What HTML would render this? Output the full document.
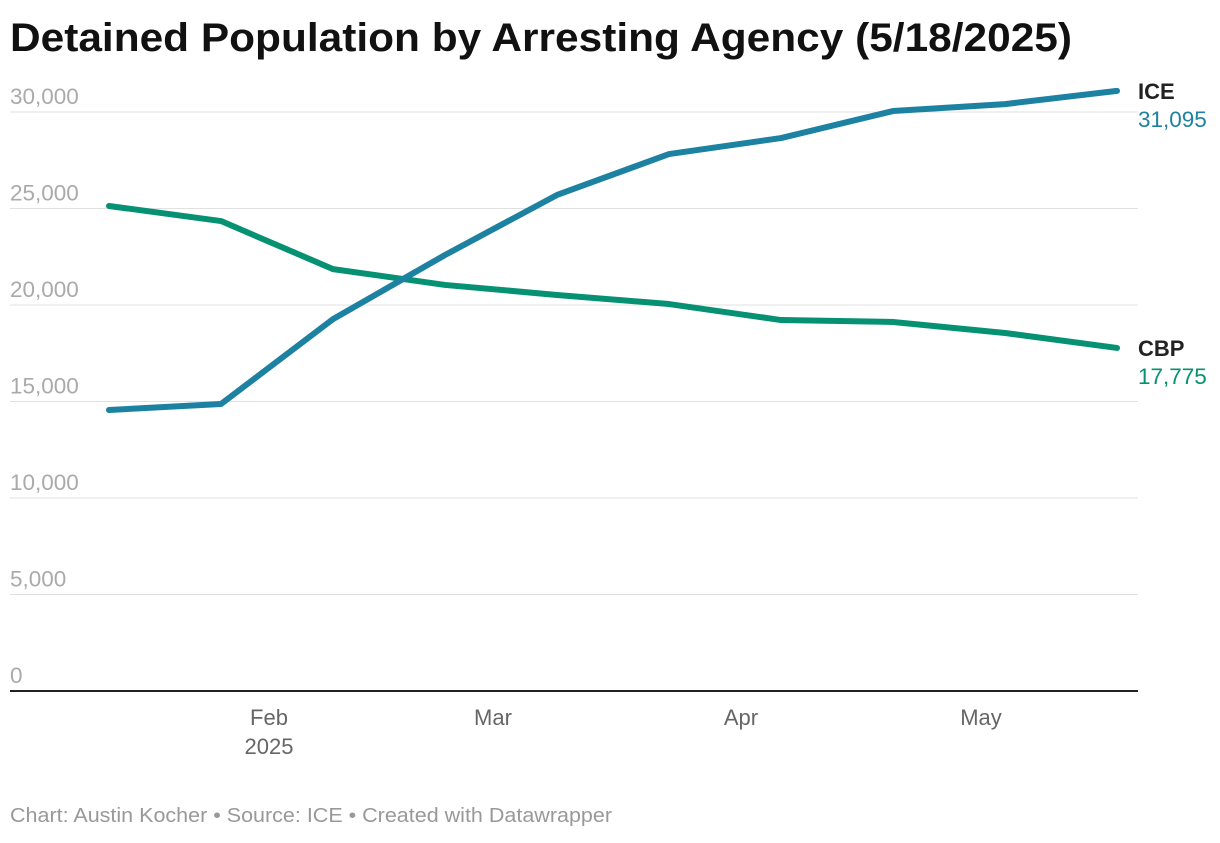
<!DOCTYPE html>
<html><head><meta charset="utf-8"><style>
body{margin:0;background:#fff;font-family:"Liberation Sans",sans-serif;}
svg text{font-family:"Liberation Sans",sans-serif;}
</style></head><body>
<svg id="c" width="1220" height="838">
<text x="10" y="51" font-size="40" font-weight="bold" fill="#111" textLength="1062" lengthAdjust="spacingAndGlyphs">Detained Population by Arresting Agency (5/18/2025)</text>
<g id="grid"></g><g id="lines"></g><g id="labels"></g>
<text x="10" y="822" font-size="20" fill="#999" textLength="602" lengthAdjust="spacingAndGlyphs">Chart: Austin Kocher • Source: ICE • Created with Datawrapper</text>
</svg>
<script>
const dates=["2025-01-12","2025-01-26","2025-02-09","2025-02-23","2025-03-09","2025-03-23","2025-04-06","2025-04-20","2025-05-04","2025-05-18"];
const ice=[14560,14870,19270,22590,25700,27820,28650,30050,30410,31095];
const cbp=[25130,24350,21860,21040,20520,20050,19220,19120,18550,17775];
const yTicks=[0,5000,10000,15000,20000,25000,30000];
const xTicks=[["2025-02-01","Feb"],["2025-03-01","Mar"],["2025-04-01","Apr"],["2025-05-01","May"]];
const NS="http://www.w3.org/2000/svg";
const t0=Date.parse(dates[0]);
function x(d){return 109+(Date.parse(d)-t0)/86400000*8.0;}
function y(v){return 691-v/30000*579;}
function mk(tag,attrs,parent){const e=document.createElementNS(NS,tag);for(const k in attrs)e.setAttribute(k,attrs[k]);document.getElementById(parent).appendChild(e);return e;}
yTicks.forEach(v=>{
 if(v>0){const l=mk('line',{x1:10,x2:1138,y1:y(v),y2:y(v),stroke:'#e0e0e0','stroke-width':1},'grid');
 
 }
 const t=mk('text',{x:10,y:y(v)-8,'font-size':22.5,fill:'#aaa'},'grid');t.textContent=v.toLocaleString('en-US');
 
 
});
const ax=mk('line',{x1:10,x2:1138,y1:691,y2:691,stroke:'#222','stroke-width':2},'grid');


xTicks.forEach(([d,lab])=>{
 const t=mk('text',{x:x(d),y:725,'font-size':22,fill:'#666','text-anchor':'middle'},'grid');t.textContent=lab;
 
 
 if(lab==="Feb"){const t2=mk('text',{x:x(d),y:754,'font-size':22,fill:'#666','text-anchor':'middle'},'grid');t2.textContent="2025";
 
 }
});
function line(vals,color,name){
 const p=mk('polyline',{points:vals.map((v,i)=>x(dates[i])+','+y(v)).join(' '),fill:'none',stroke:color,'stroke-width':6,'stroke-linejoin':'round','stroke-linecap':'round'},'lines');
 
 
}
line(cbp,'#079173','cbp-line');
line(ice,'#1d81a2','ice-line');
function label(vals,name,color,key){
 const yy=y(vals[vals.length-1]);
 const a=mk('text',{x:1138,y:yy+8,'font-size':22,'font-weight':'bold',fill:'#222'},'labels');a.textContent=name;
 
 
 const b=mk('text',{x:1138,y:yy+36,'font-size':22.5,fill:color},'labels');b.textContent=vals[vals.length-1].toLocaleString('en-US');
 
 
}
label(ice,'ICE','#1d81a2','ice');
label(cbp,'CBP','#079173','cbp');
</script>
</body></html>
